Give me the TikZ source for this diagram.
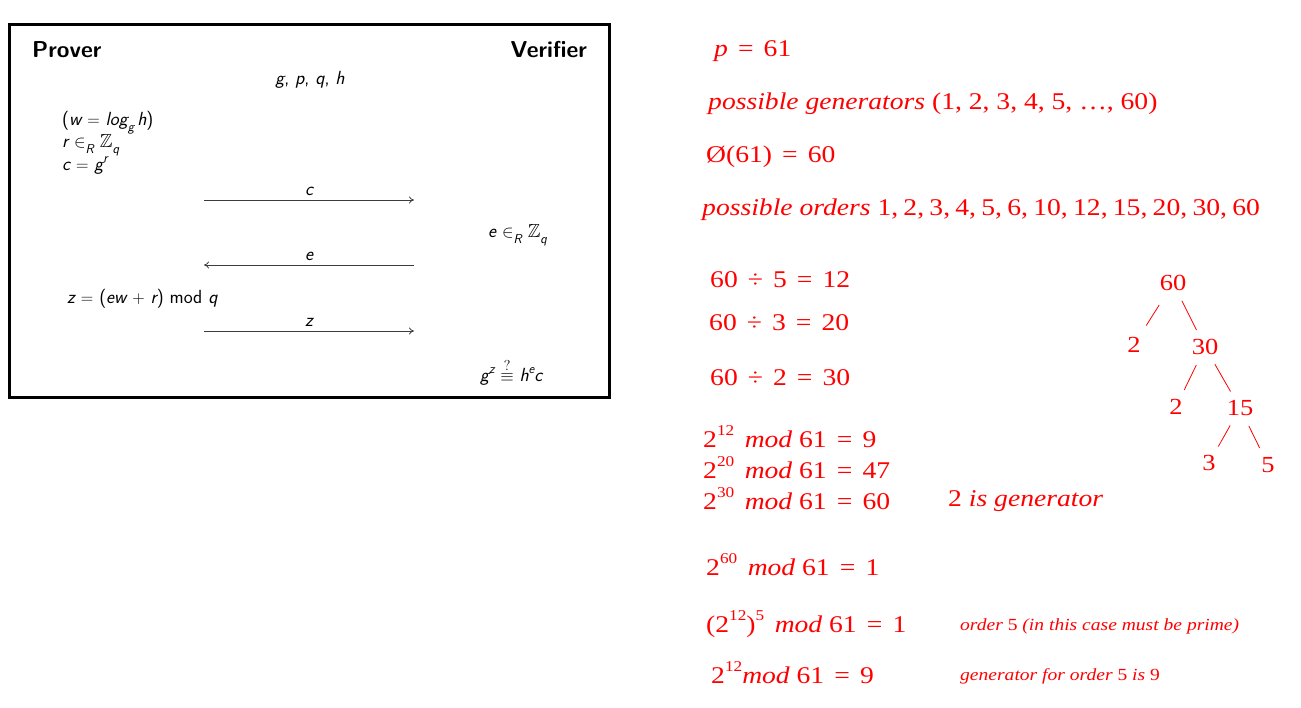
\documentclass[tikz,border=0pt]{standalone}
\usepackage{fontspec}
\usepackage{amssymb}
\usetikzlibrary{arrows.meta}
\newfontfamily\redfont[FakeStretch=1.15]{Liberation Serif}
\definecolor{ink}{RGB}{255,0,0}
\definecolor{wire}{RGB}{60,60,60}
\newcommand\V[1]{{\sffamily\itshape #1}}
\newcommand\Lo[1]{\raisebox{-0.3em}{\fontsize{13}{13}\selectfont\V{#1}}}
\newcommand\Hi[1]{\raisebox{0.45em}{\fontsize{13}{13}\selectfont\V{#1}}}
\newcommand\Sp[1]{\raisebox{0.5em}{\fontsize{15}{15}\selectfont #1}}
\newcommand\OP[1]{\hspace{0.42em}#1\hspace{0.42em}}
\newcommand\MOD{\hspace{0.15em}\itshape mod\upshape}
\tikzset{
  x=1pt,y=-1pt,
  body/.style={inner sep=0pt,font=\sffamily\fontsize{19}{22}\selectfont},
  head/.style={inner sep=0pt,font=\sffamily\bfseries\fontsize{23}{26}\selectfont},
  msg/.style={draw=wire,line width=0.8pt,-{To[length=5pt,width=7pt]}},
  lbl/.style={inner sep=0pt,font=\sffamily\fontsize{19}{22}\selectfont},
  note/.style={inner sep=0pt,text=ink,font=\redfont\fontsize{24}{28}\selectfont,anchor=base west},
  small/.style={inner sep=0pt,text=ink,font=\redfont\itshape\fontsize{17}{20}\selectfont,anchor=base west},
  tnode/.style={inner sep=0pt,text=ink,font=\redfont\fontsize{23}{28}\selectfont},
  tedge/.style={draw=ink,line width=0.8pt,shorten <=20pt,shorten >=19pt}
}
\begin{document}
\begin{tikzpicture}
\useasboundingbox (0,0) rectangle (1301,708);
% protocol box
\draw[line width=3pt] (9.5,24.5) rectangle (609.5,397.5);
\node[head,anchor=base west] (prover) at (32,58) {Prover};
\node[head,anchor=base east] (verifier) at (587,58) {Verifier};
\node[body,anchor=base] (pub) at (310,85) {\V{g}, \V{p}, \V{q}, \V{h}};
\node[body,anchor=base west] (w) at (62,126) {(\V{w} $=$ \V{log}\Lo{g}\,\V{h})};
\node[body,anchor=base west] (r) at (62,148) {\V{r} $\in$\Lo{R} $\mathbb{Z}$\Lo{q}};
\node[body,anchor=base west] (c) at (62,171) {\V{c} $=$ \V{g}\Hi{r}};
\node[body,anchor=base west] (e) at (488,238) {\V{e} $\in$\Lo{R} $\mathbb{Z}$\Lo{q}};
\node[body,anchor=base west] (z) at (67,304) {\V{z} $=$ (\V{ew} $+$ \V{r}) mod \V{q}};
\node[body,anchor=base west] (chk) at (480,382) {\V{g}\Hi{z}\hspace{0.3em}$\stackrel{?}{\equiv}$\hspace{0.3em}\V{h}\Hi{e}\V{c}};
\coordinate (a1) at (204,200); \coordinate (b1) at (414,200);
\coordinate (a2) at (204,265); \coordinate (b2) at (414,265);
\coordinate (a3) at (204,331); \coordinate (b3) at (414,331);
\draw[msg] (a1) -- node[lbl,above=4pt] (lc) {\V{c}} (b1);
\draw[msg] (b2) -- node[lbl,above=4pt] (le) {\V{e}} (a2);
\draw[msg] (a3) -- node[lbl,above=4pt] (lz) {\V{z}} (b3);
% notes
\node[note] (p) at (714,57) {\itshape p\upshape\OP{=}61};
\node[note] (gens) at (708,110) {\itshape possible generators\upshape\ (1, 2, 3, 4, 5, …, 60)};
\node[note] (phi) at (706,163) {Ø(61)\OP{=}60};
\node[note] (ord) at (702,216) {\itshape possible orders\upshape\ {\spaceskip=0.22em 1, 2, 3, 4, 5, 6, 10, 12, 15, 20, 30, 60}};
\node[note] (d5) at (710,288) {60\OP{÷}5\OP{=}12};
\node[note] (d3) at (709,331) {60\OP{÷}3\OP{=}20};
\node[note] (d2) at (710,385) {60\OP{÷}2\OP{=}30};
\node[note] (m12) at (703,447) {2\Sp{12} \MOD\ 61\OP{=}9};
\node[note] (m20) at (703,478) {2\Sp{20} \MOD\ 61\OP{=}47};
\node[note] (m30) at (703,509) {2\Sp{30} \MOD\ 61\OP{=}60};
\node[note] (isg) at (948,506) {2 \itshape is generator};
\node[note] (m60) at (706,575) {2\Sp{60} \MOD\ 61\OP{=}1};
\node[note] (m125) at (706,632) {(2\Sp{12})\Sp{5} \MOD\ 61\OP{=}1};
\node[note] (m12b) at (711,683) {2\Sp{12}\itshape mod\upshape\ 61\OP{=}9};
\node[small] (o5) at (960,630) {order \upshape 5 \itshape (in this case must be prime)};
\node[small] (g9) at (960,680) {generator for order \upshape 5 \itshape is \upshape 9};
% factor tree
\node[tnode] (t60) at (1173,283) {60};
\node[tnode] (t2a) at (1134,345) {2};
\node[tnode] (t30) at (1205,347) {30};
\node[tnode] (t2b) at (1176,407) {2};
\node[tnode] (t15) at (1240,408) {15};
\node[tnode] (t3) at (1209,463) {3};
\node[tnode] (t5) at (1268,465) {5};
\draw[tedge,shorten <=26pt,shorten >=23pt] (t60.center) -- (t2a.center);
\draw[tedge] (t60.center) -- (t30.center);
\draw[tedge] (t30.center) -- (t2b.center);
\draw[tedge] (t30.center) -- (t15.center);
\draw[tedge] (t15.center) -- (t3.center);
\draw[tedge] (t15.center) -- (t5.center);
\end{tikzpicture}
\end{document}
